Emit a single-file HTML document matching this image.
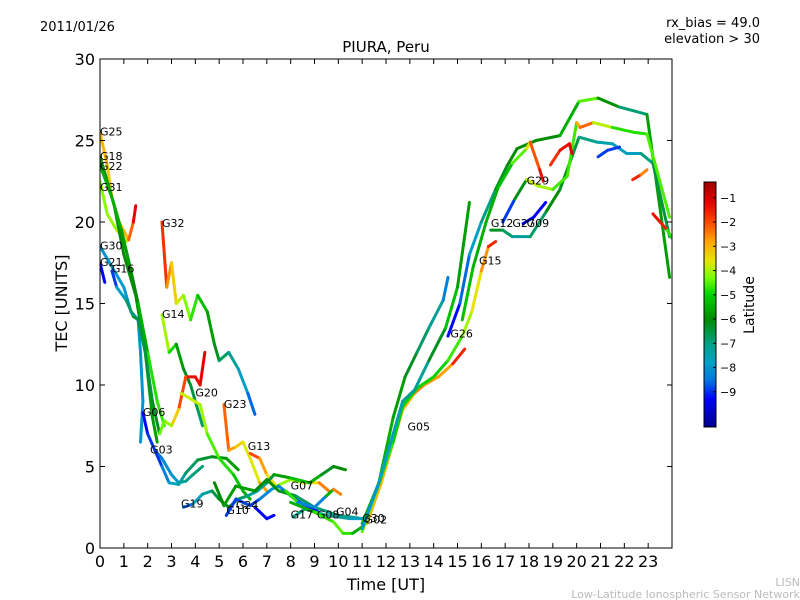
<!DOCTYPE html>
<html><head><meta charset="utf-8"><style>
body{margin:0;background:#fff;}
svg{display:block;font-family:"DejaVu Sans","Liberation Sans",sans-serif;}
</style></head><body>
<svg id="chart" width="800" height="600" viewBox="0 0 800 600">
<rect width="800" height="600" fill="#fff"/>
<text x="40" y="31" font-size="13">2011/01/26</text>
<text x="760" y="27" font-size="13" text-anchor="end">rx_bias = 49.0</text>
<text x="760" y="43" font-size="13" text-anchor="end">elevation &gt; 30</text>
<text x="386" y="52" font-size="15" text-anchor="middle">PIURA, Peru</text>
<text x="386" y="590" font-size="16" text-anchor="middle">Time [UT]</text>
<text transform="translate(67,303) rotate(-90)" font-size="16" text-anchor="middle">TEC [UNITS]</text>
<text transform="translate(754,305) rotate(-90)" font-size="14" text-anchor="middle">Latitude</text>
<text x="800" y="586" font-size="11" fill="#bbb" text-anchor="end">LISN</text>
<text x="800" y="598" font-size="11" fill="#bbb" text-anchor="end">Low-Latitude Ionospheric Sensor Network</text>
<g id="marks"></g>
<g id="axes"></g>
</svg>
<script>
// Data: tracks of [time(UT), TEC, latitude]
const trackData = [
 [[0,25.5,-3],[0.3,23.5,-3],[0.5,21.5,-3.5],[0.8,20,-3],[1.2,18.9,-3],[1.4,20,-1.5],[1.5,21,-1]],
 [[0,22.5,-4.2],[0.3,20.5,-4.2],[0.7,19.5,-4],[1.1,18.8,-3.8]],
 [[0,24,-6],[0.6,21,-6],[1,18,-6],[1.5,15.5,-6],[1.9,12,-6],[2.2,8,-5.5],[2.4,6.5,-6]],
 [[0,23.5,-5.5],[0.5,21.5,-5.5],[0.9,19.5,-5.5],[1.3,17,-6],[1.6,15,-6],[2,12,-5],[2.4,9,-4.6],[2.7,7.5,-4.8]],
 [[0,18.5,-8],[0.4,17.5,-8],[1,16,-7.8],[1.3,14.5,-8],[1.6,14,-8],[1.7,12,-8],[1.8,9,-8],[1.7,6.5,-8]],
 [[0,17.5,-9.3],[0.2,16.3,-9.3]],
 [[0.5,17,-9.3],[0.7,16,-8.5],[1.1,15.2,-7],[1.4,14.2,-6.5],[1.6,14,-6.5],[1.9,12,-6.5],[2.2,9,-6.5],[2.5,7,-6]],
 [[1.8,8.3,-9.3],[2,7,-9.2],[2.3,6,-8.7],[2.6,5.5,-8.3],[3,4.5,-8],[3.3,4,-7.8],[3.6,4.1,-7.2],[3.9,4.5,-7],[4.3,5,-6.8]],
 [[2.3,6,-9.2],[2.6,5,-8.7],[2.9,4,-8],[3.3,3.9,-7.5],[3.6,4.6,-7],[4.1,5.4,-6.5],[4.7,5.6,-6.3],[5.3,5.5,-6],[5.8,4.8,-5.5]],
 [[2.6,20,-1.2],[2.8,16,-2.3],[3.0,17.5,-3],[3.2,15,-3.5],[3.5,15.5,-4],[3.8,14,-4.5],[4.1,15.5,-5],[4.5,14.5,-5.5],[4.8,12.5,-6],[5,11.5,-6.5],[5.4,12,-7],[5.8,11,-7.5],[6.2,9.5,-8],[6.5,8.2,-9.2]],
 [[2.6,14.3,-3.8],[2.9,12,-4.3],[3.2,12.5,-5.5],[3.5,11,-6],[3.8,10,-6.5],[4.1,8.5,-6.5],[4.3,7.5,-7]],
 [[4.4,12,-1.2],[4.2,10,-1.2],[4,10.5,-1.5],[3.6,10.5,-1.2],[3.3,8.5,-2.8],[3,7.5,-3.8],[2.7,7.8,-4.3],[2.5,7,-4.5]],
 [[3.4,9.5,-3.8],[4.2,8.8,-3.8],[4.5,7,-4.3],[5,5.5,-4.8],[5.6,4.5,-4.8],[6,3.5,-5.5],[6.3,3,-5.5]],
 [[5.2,8.8,-2],[5.4,6,-2.5],[5.7,6.2,-3],[6,6.5,-3.5],[6.3,5.5,-3.8],[6.7,4,-3.5],[7,3.5,-2]],
 [[6.3,5.8,-1.5],[6.7,5.5,-2.5],[7,4.5,-3],[7.4,3.8,-4],[8,4.2,-4.3],[8.5,4,-4],[9.2,4,-3],[9.6,3.5,-2]],
 [[3.5,2.5,-9.3],[3.9,2.7,-8],[4.3,3.3,-7.5],[4.7,3.5,-7],[5,3,-6],[5.4,2.5,-6],[5.8,3,-6.5],[6.2,3.2,-7],[6.6,3.5,-7.5],[7,4,-7],[7.3,4.5,-6],[8,4.3,-5.5],[8.8,4,-5],[9.3,4.5,-6],[9.8,5,-6.5],[10.3,4.8,-5.5]],
 [[5.3,2,-9.3],[5.7,3,-8.5],[6.3,2.6,-9.2],[6.7,3,-8.5],[7.2,3.6,-8],[7.5,3.8,-8],[8,3.2,-8.5],[8.5,2.7,-9.2],[9,2.4,-9.2],[9.3,2,-9.3]],
 [[6.5,2.5,-9.3],[7,1.8,-9.3],[7.3,2,-9.3]],
 [[4.8,4,-6],[5.2,2.6,-6],[5.7,3.8,-5.5],[6.5,3.5,-6],[7,4.2,-6],[7.5,3.5,-6],[8.2,3.2,-6.5],[9,2.5,-7],[10,2,-7],[11,1.8,-7]],
 [[8.1,1.9,-7],[8.6,2.4,-7],[9.5,2,-7],[10.5,1.8,-7.5],[11,1.8,-8]],
 [[7.8,3.5,-1.5],[8.3,2.8,-8],[9,2.5,-8.5],[9.5,3.2,-8],[9.8,3.6,-3],[10.1,3.3,-2]],
 [[8,2.8,-6],[9,2.2,-5],[9.8,1.6,-4.5],[10.2,0.9,-4.5],[10.6,0.9,-5],[11,1.3,-6],[11.3,2,-6.5]],
 [[11,1.5,-5.5],[11.7,4,-5.5],[12.3,8,-5.5],[12.8,10.5,-6],[13.3,12,-6.5],[13.8,13.5,-7],[14.4,15.2,-7.5],[14.6,16.6,-9.2]],
 [[14.6,13,-9.3],[15.1,15,-9.2],[15.5,18,-8],[16,20,-7.5],[16.6,22,-6.5],[17.1,23.5,-6],[17.5,24.5,-6],[18.3,25,-6],[19.3,25.3,-6],[20.1,27.4,-5],[20.9,27.6,-4],[21.8,27.05,-7.8],[22.95,26.6,-6],[23.9,16.6,-5.5]],
 [[11.2,1.5,-3],[11.8,4,-3],[12.2,6,-3],[12.7,8.5,-3],[13.2,9.5,-3],[13.6,10,-2],[14.2,10.5,-3.5],[14.8,11.3,-2],[15.3,12.2,-1.2]],
 [[11,1,-4.5],[11.6,3.5,-4.5],[12.3,6.5,-5],[12.7,8.7,-5],[13.3,9.8,-5],[14,10.5,-5],[14.6,11.5,-5],[15.2,13,-4.3],[15.6,14.5,-3.8],[16,17,-3.3],[16.3,18.5,-2],[16.6,18.8,-1.2]],
 [[11,1.2,-8],[11.7,4,-8],[12.3,7,-7.5],[12.7,9,-7.5],[13.2,9.7,-7],[13.8,11.5,-7.5],[14.5,13.5,-5],[15,16,-5.5],[15.5,21.2,-6]],
 [[15.2,14,-5],[15.65,17.2,-5.5],[16.2,20,-5.5],[16.7,22.1,-5.5],[17.3,23.6,-5],[17.9,24.5,-4],[18.05,24.9,-3],[18.45,23.2,-1.2],[18.6,22.5,-1.5]],
 [[16.4,19.5,-6],[16.9,19.5,-6.5],[17.3,19.1,-7],[18.05,19.1,-7.5],[18.75,20.7,-6],[19.3,22,-6],[19.85,24.2,-6.5],[20.1,25.2,-6.5],[20.85,24.9,-7.5],[21.5,24.8,-7.5],[22.1,24.2,-8],[22.7,24.2,-7.5],[23.2,23.6,-6.5],[23.9,19.1,-6.5]],
 [[16.9,20,-9.3],[17.4,21.4,-8.5],[17.9,22.6,-3.8],[18.4,22.2,-3.8],[19,22,-4.3],[19.6,22.8,-5],[20,26.1,-4.3],[20.15,25.8,-1.5],[20.7,26.1,-3],[21.5,25.8,-4.8],[22.4,25.5,-4.8],[22.95,25.4,-4.8],[23.9,20.3,-4.3]],
 [[17.75,19.9,-9.3],[18.2,20.3,-9.3],[18.7,21.2,-9.3]],
 [[18.9,23.5,-2],[19.3,24.4,-1.5],[19.7,24.8,-1.2],[19.8,24.2,-1.2]],
 [[20.9,24,-9.3],[21.3,24.4,-8.5],[21.8,24.6,-9.3]],
 [[22.35,22.6,-1.2],[22.7,22.9,-2],[22.95,23.2,-3]],
 [[23.2,20.5,-1.2],[23.5,20,-1.5],[23.8,19.5,-1.5],[24,19,-8]]
];
const labelTexts = ["G25","G18","G22","G31","G30","G21","G16","G32","G14","G06","G20","G03","G23","G13","G19","G10","G24","G07","G17","G08","G04","G30","G02","G05","G26","G15","G12","G27","G09","G29"];
const labelPos = [[0,25.3],[0,23.8],[0,23.2],[0,21.9],[0,18.3],[0,17.3],[0.5,16.9],[2.6,19.7],[2.6,14.1],[1.8,8.1],[4,9.3],[2.1,5.8],[5.2,8.6],[6.2,6.0],[3.4,2.5],[5.3,2.1],[5.7,2.4],[8,3.6],[8,1.8],[9.1,1.8],[9.9,2.0],[11,1.6],[11.1,1.5],[12.9,7.2],[14.7,12.9],[15.9,17.4],[16.4,19.7],[17.3,19.7],[17.9,19.7],[17.9,22.3]];
const xTicks = [0,1,2,3,4,5,6,7,8,9,10,11,12,13,14,15,16,17,18,19,20,21,22,23];
const yTicks = [0,5,10,15,20,25,30];
const cbTicks = [-1,-2,-3,-4,-5,-6,-7,-8,-9];

const X0=100,X1=672,Y0=548,Y1=59,XMAX=24,YMAX=30;
const LATMIN=-10.45,LATMAX=-0.35;
const CBX=704,CBW=12,CBY0=182,CBY1=427;
const cmapStops=[[-10.45,[0,0,140]],[-9.3,[0,0,255]],[-8.5,[0,120,220]],[-7.8,[0,160,200]],[-7,[0,160,130]],[-6,[0,140,0]],[-5,[0,210,0]],[-4.3,[120,255,0]],[-3.6,[230,230,0]],[-2.8,[255,165,0]],[-2,[255,70,0]],[-1.2,[230,0,0]],[-0.35,[160,0,0]]];
function sx(t){return X0+t/XMAX*(X1-X0);}
function sy(v){return Y0-v/YMAX*(Y0-Y1);}
function cy(l){return CBY0+(LATMAX-l)/(LATMAX-LATMIN)*(CBY1-CBY0);}
function cmap(l){
 if(l<=cmapStops[0][0]) return `rgb(${cmapStops[0][1].join(',')})`;
 for(let i=0;i<cmapStops.length-1;i++){
  const a=cmapStops[i],b=cmapStops[i+1];
  if(l<=b[0]){const f=(l-a[0])/(b[0]-a[0]);
   return `rgb(${[0,1,2].map(k=>Math.round(a[1][k]+f*(b[1][k]-a[1][k]))).join(',')})`;}
 }
 return `rgb(${cmapStops[cmapStops.length-1][1].join(',')})`;
}
const NS="http://www.w3.org/2000/svg";
function mk(tag,attrs,parent){const e=document.createElementNS(NS,tag);for(const k in attrs)e.setAttribute(k,attrs[k]);parent.appendChild(e);return e;}
const marks=document.getElementById('marks');
const axes=document.getElementById('axes');
const clip=mk('clipPath',{id:'pc'},mk('defs',{},marks));
mk('rect',{x:X0,y:Y1,width:X1-X0,height:Y0-Y1},clip);
const lg=mk('g',{'clip-path':'url(#pc)'},marks);
trackData.forEach((tr,i)=>{
 const g=mk('g',{},lg);
 
 
 for(let j=0;j<tr.length-1;j++){
  const a=tr[j],b=tr[j+1];
  const seg=mk('line',{x1:sx(a[0]),y1:sy(a[1]),x2:sx(b[0]),y2:sy(b[1]),stroke:cmap((a[2]+b[2])/2),'stroke-width':3,'stroke-linecap':'round'},g);
  
  
 }
});
labelTexts.forEach((t,i)=>{
 const e=mk('text',{x:sx(labelPos[i][0]),y:sy(labelPos[i][1]),'font-size':11},marks);
 e.textContent=t;
 
 
});
const fr=mk('rect',{x:X0,y:Y1,width:X1-X0,height:Y0-Y1,fill:'none',stroke:'#000','stroke-width':1},axes);


xTicks.forEach(t=>{
 const x=sx(t);
 mk('line',{x1:x,y1:Y0,x2:x,y2:Y0-5,stroke:'#000'},axes);
 mk('line',{x1:x,y1:Y1,x2:x,y2:Y1+5,stroke:'#000'},axes);
 const e=mk('text',{x:x,y:Y0+19,'font-size':16,'text-anchor':'middle'},axes);
 e.textContent=t;
 
 
});
yTicks.forEach(v=>{
 const y=sy(v);
 mk('line',{x1:X0,y1:y,x2:X0+5,y2:y,stroke:'#000'},axes);
 mk('line',{x1:X1,y1:y,x2:X1-5,y2:y,stroke:'#000'},axes);
 const e=mk('text',{x:X0-5,y:y+6,'font-size':16,'text-anchor':'end'},axes);
 e.textContent=v;
 
 
});
const cbg=mk('g',{},axes);


for(let y=CBY0;y<CBY1;y++){
 const l=LATMAX-(y+0.5-CBY0)/(CBY1-CBY0)*(LATMAX-LATMIN);
 mk('rect',{x:CBX,y:y,width:CBW,height:1.2,fill:cmap(l)},cbg);
}
mk('rect',{x:CBX,y:CBY0,width:CBW,height:CBY1-CBY0,fill:'none',stroke:'#000'},cbg);
cbTicks.forEach(l=>{
 const y=cy(l);
 mk('line',{x1:CBX+CBW,y1:y,x2:CBX+CBW-3,y2:y,stroke:'#000'},cbg);
 const e=mk('text',{x:CBX+CBW+4,y:y+4,'font-size':11},cbg);
 e.textContent='\u2212'+Math.abs(l);
 
 
});
</script>
</body></html>
